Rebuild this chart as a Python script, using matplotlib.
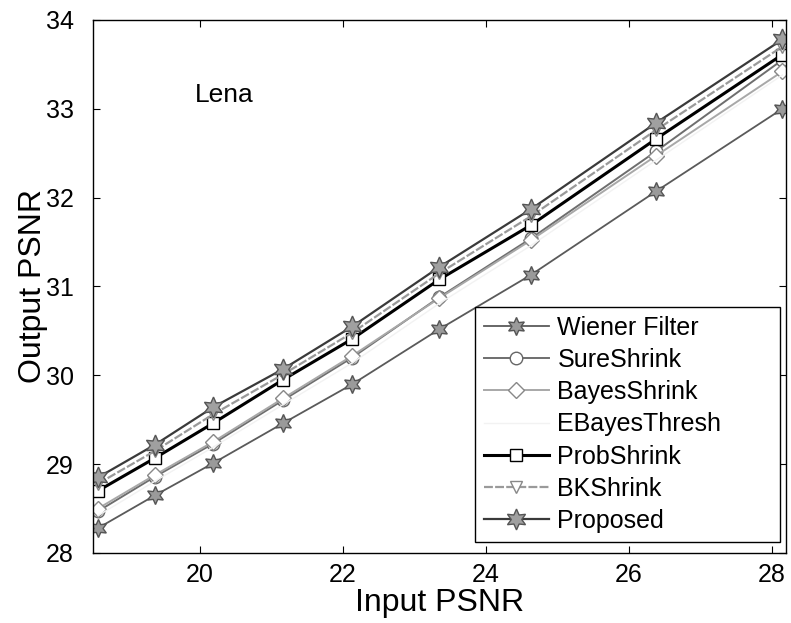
import matplotlib
matplotlib.use('Agg')
from matplotlib import pyplot as plt

plt.rcParams['font.family'] = ['Liberation Sans', 'DejaVu Sans']

# =============================================================================
# data
# =============================================================================
input_psnr = [18.57, 19.37, 20.18, 21.16, 22.13, 23.35, 24.63, 26.38, 28.15]

wiener = [28.28, 28.65, 29.01, 29.46, 29.90, 30.52, 31.13, 32.07, 33.00]
sure = [28.47, 28.86, 29.23, 29.72, 30.20, 30.88, 31.54, 32.52, 33.55]
bayes = [28.50, 28.88, 29.25, 29.74, 30.22, 30.87, 31.52, 32.47, 33.42]
ebayes = [28.42, 28.81, 29.19, 29.67, 30.14, 30.81, 31.46, 32.42, 33.38]
prob = [28.70, 29.07, 29.46, 29.95, 30.41, 31.08, 31.69, 32.66, 33.61]
bk = [28.78, 29.15, 29.56, 30.01, 30.48, 31.15, 31.79, 32.76, 33.70]
proposed = [28.85, 29.22, 29.64, 30.07, 30.55, 31.22, 31.87, 32.84, 33.78]

names = ['Wiener Filter', 'SureShrink', 'BayesShrink', 'EBayesThresh',
         'ProbShrink', 'BKShrink', 'Proposed']
series = [wiener, sure, bayes, ebayes, prob, bk, proposed]

hexagram = (6, 1, 0)
styles = [
    dict(color='#5a5a5a', lw=1.3, marker=hexagram, ms=13, mfc='#9a9a9a', mec='#555555'),
    dict(color='#6e6e6e', lw=1.4, marker='o', ms=9, mfc='white', mec='#666666'),
    dict(color='#a8a8a8', lw=1.4, marker='D', ms=8, mfc='white', mec='#888888'),
    dict(color='#f2f2f2', lw=1.0, marker=None),
    dict(color='black', lw=2.2, marker='s', ms=9, mfc='white', mec='black'),
    dict(color='#9a9a9a', lw=1.6, ls=(0, (4, 1)), marker='v', ms=9, mfc='white', mec='#888888'),
    dict(color='#3a3a3a', lw=1.6, marker=hexagram, ms=15, mfc='#a0a0a0', mec='#555555'),
]

fig = plt.figure(figsize=(7.91, 6.23), dpi=100)
ax = fig.add_axes([0.1176, 0.1124, 0.876, 0.8556])

for vals, name, st in zip(series, names, styles):
    ax.plot(input_psnr, vals, label=name, **st)

ax.set_xlim(18.5, 28.2)
ax.set_ylim(28, 34)
ax.set_xticks([20, 22, 24, 26, 28])
ax.set_yticks([28, 29, 30, 31, 32, 33, 34])
ax.tick_params(direction='in', top=True, right=True, labelsize=18, length=5)
ax.tick_params(axis='x', pad=7)
ax.tick_params(axis='y', pad=14)
for sp in ax.spines.values():
    sp.set_linewidth(1.0)

ax.set_xlabel('Input PSNR', fontsize=23, labelpad=1)
ax.set_ylabel('Output PSNR', fontsize=23, labelpad=-2)
ax.text(19.93, 33.16, 'Lena', fontsize=19, va='center', ha='left')

# legend box wider than its contents, as in the original
leg = ax.legend(loc='lower left', bbox_to_anchor=(0.551, 0.021, 0.44, 0.44),
                mode='expand', fontsize=18,
                handlelength=2.6, labelspacing=0.33, borderpad=0.35,
                handletextpad=0.35, fancybox=False, framealpha=1,
                edgecolor='black', borderaxespad=0)
leg.get_frame().set_linewidth(1.0)

plt.savefig('out.png', dpi=100)
